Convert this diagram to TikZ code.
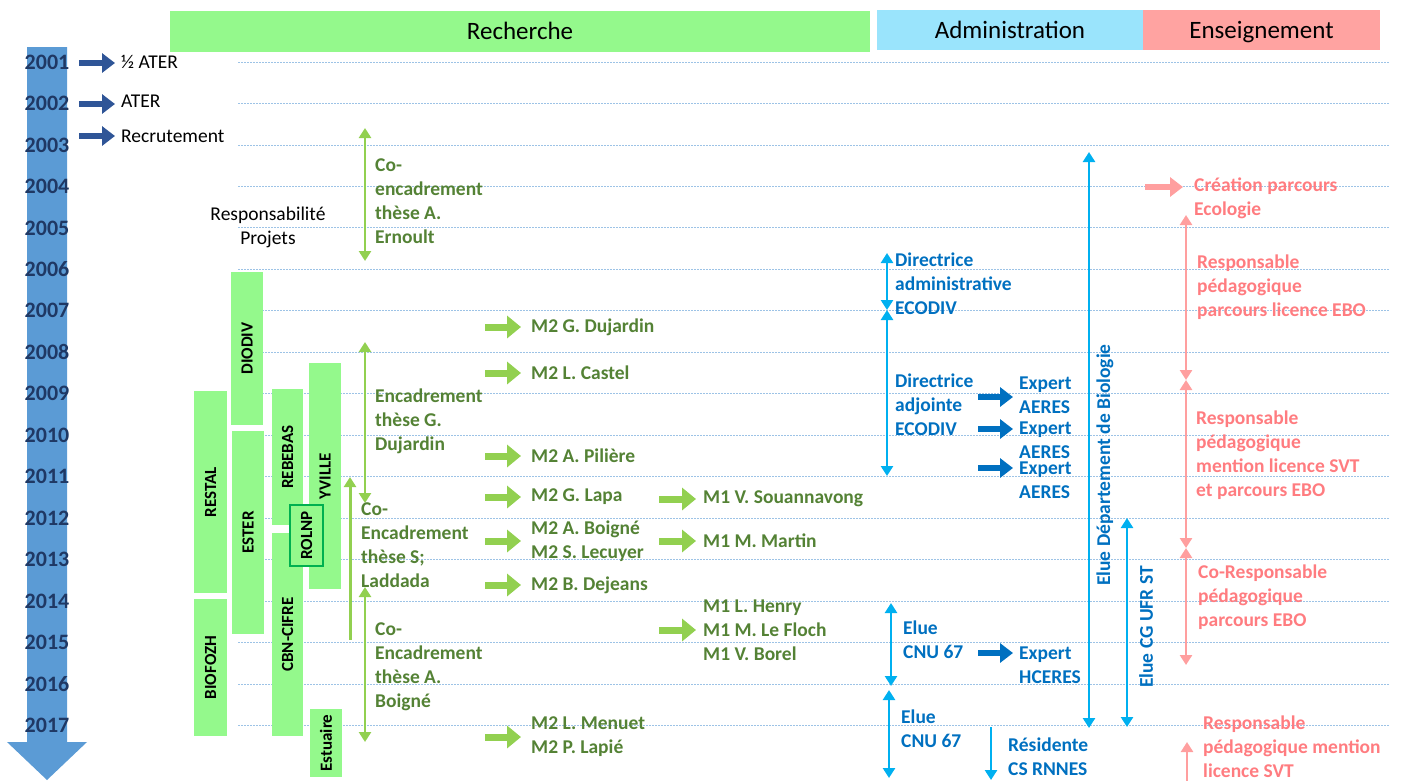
\documentclass[tikz,border=0pt]{standalone}
\usepackage{fontspec}
\setmainfont{Carlito}
\usetikzlibrary{arrows.meta}
\definecolor{timeblue}{HTML}{5B9BD5}
\definecolor{yearnavy}{HTML}{1F3864}
\definecolor{posteblue}{HTML}{2F5597}
\definecolor{rechgreen}{HTML}{94F98C}
\definecolor{admblue}{HTML}{9AE4FC}
\definecolor{enspink}{HTML}{FFA3A1}
\definecolor{arrgreen}{HTML}{92D050}
\definecolor{txtgreen}{HTML}{548235}
\definecolor{arrblue}{HTML}{00B0F0}
\definecolor{txtblue}{HTML}{0070C0}
\definecolor{arrpink}{HTML}{FF9F9F}
\definecolor{txtpink}{HTML}{FF7C80}
\definecolor{gridblue}{HTML}{9DC3E6}
\definecolor{boxedge}{HTML}{00B050}
\begin{document}
\begin{tikzpicture}[x=1pt, y=-1pt,
    header/.style={inner sep=0pt, text height=20pt, text depth=3pt, font=\fontsize{25}{30}\selectfont},
    yearlbl/.style={inner sep=0pt, font=\bfseries\fontsize{22}{24}\selectfont, text=yearnavy},
    plain/.style={inner sep=0pt, align=left, font=\fontsize{19.5}{24}\selectfont},
    lbl/.style={inner sep=0pt, align=left, anchor=west, font=\bfseries\fontsize{19.5}{24}\selectfont},
    gtxt/.style={lbl, text=txtgreen},
    btxt/.style={lbl, text=txtblue},
    ptxt/.style={lbl, text=txtpink},
    projet/.style={fill=rechgreen, inner sep=0pt, rotate=90, font=\bfseries\fontsize{17}{20}\selectfont},
    gridline/.style={gridblue, line width=0.8pt, dash pattern=on 1.5pt off 1.5pt},
    span/.style={line width=2.6pt, {Triangle[length=10pt,width=12pt]}-{Triangle[length=10pt,width=12pt]}},
    upspan/.style={line width=2.6pt, {Triangle[length=10pt,width=12pt]}-},
    fat/.style={line width=7pt, -{Triangle[length=14pt,width=22pt]}},
    fatthin/.style={line width=6pt, -{Triangle[length=13pt,width=19pt]}},
]
\useasboundingbox (0,0) rectangle (1402,780);

\foreach \i in {0,...,16}
    \draw[gridline] (238,{62+\i*41.47}) -- (1390,{62+\i*41.47});

\fill[timeblue] (27,47) -- (67,47) -- (67,742) -- (87,742) -- (47,780) -- (7,742) -- (27,742) -- cycle;
\foreach \yr [count=\i from 0] in {2001,...,2017}
    \node[yearlbl] (y\yr) at (47,{62+\i*41.47}) {\yr};

\node[header, fill=rechgreen, minimum width=700pt, minimum height=41pt] (rech) at (520,31) {Recherche};
\node[header, fill=admblue, minimum width=266pt, minimum height=40pt] (adm) at (1010,30) {Administration};
\node[header, fill=enspink, minimum width=237pt, minimum height=40pt] (ens) at (1261.5,30) {Enseignement};

\node[plain, anchor=west] (demi) at (121,62) {½ ATER};
\node[plain, anchor=west] (ater) at (121,101) {ATER};
\node[plain, anchor=west] (recru) at (121,136) {Recrutement};
\draw[fatthin, posteblue] ([xshift=-42pt,yshift=-1pt]demi.west) -- ([xshift=-6pt,yshift=-1pt]demi.west);
\draw[fatthin, posteblue] ([xshift=-42pt,yshift=-3pt]ater.west) -- ([xshift=-6pt,yshift=-3pt]ater.west);
\draw[fatthin, posteblue] ([xshift=-42pt]recru.west) -- ([xshift=-6pt]recru.west);
\node[plain, align=center] (resp) at (268,227) {Responsabilité\\Projets};

\node[projet, minimum width=202pt, minimum height=33pt] (restal) at (210.5,492) {RESTAL};
\node[projet, minimum width=137pt, minimum height=33pt] (biofozh) at (210.5,667.5) {BIOFOZH};
\node[projet, minimum width=153pt, minimum height=32pt] (diodiv) at (247,348.5) {DIODIV};
\node[projet, minimum width=203pt, minimum height=32pt] (ester) at (248,532.5) {ESTER};
\node[projet, minimum width=136pt, minimum height=31pt] (rebebas) at (287.5,457) {REBEBAS};
\node[projet, minimum width=203pt, minimum height=31pt] (cbn) at (287.5,634.5) {CBN-CIFRE};
\node[projet, minimum width=226pt, minimum height=32pt] (yville) at (325,476) {YVILLE};
\node[projet, minimum width=68pt, minimum height=32pt] (estuaire) at (326,743) {Estuaire};
\node[projet, draw=boxedge, line width=1.2pt, minimum width=61pt, minimum height=33pt] (rolnp) at (306.5,535.5) {ROLNP};

\draw[span, arrgreen] (365,128) -- (365,261);
\node[gtxt] (ernoult) at (375,201.5) {Co-\\encadrement\\thèse A.\\Ernoult};
\draw[span, arrgreen] (365,342) -- (365,503);
\node[gtxt] (dujardin) at (375,421) {Encadrement\\thèse G.\\Dujardin};
\draw[upspan, arrgreen, line width=3pt] (350,477) -- (350,640);
\node[gtxt] (laddada) at (361,545) {Co-\\Encadrement\\thèse S;\\Laddada};
\draw[span, arrgreen] (365,587) -- (365,742);
\node[gtxt] (boigne) at (375,667) {Co-\\Encadrement\\thèse A.\\Boigné};

\node[gtxt] (m2a) at (531,327) {M2 G. Dujardin};
\node[gtxt] (m2b) at (531,373) {M2 L. Castel};
\node[gtxt] (m2c) at (531,456) {M2 A. Pilière};
\node[gtxt] (m2d) at (531,497) {M2 G. Lapa};
\node[gtxt] (m2e) at (531,541) {M2 A. Boigné\\M2 S. Lecuyer};
\node[gtxt] (m2f) at (531,585) {M2 B. Dejeans};
\node[gtxt] (m2g) at (531,737) {M2 L. Menuet\\M2 P. Lapié};
\foreach \n in {m2a,m2b,m2c,m2d,m2e,m2f,m2g}
    \draw[fat, arrgreen] ([xshift=-46pt]\n.west) -- ([xshift=-10pt]\n.west);

\node[gtxt] (m1a) at (703,499) {M1 V. Souannavong};
\node[gtxt] (m1b) at (703,541) {M1 M. Martin};
\node[gtxt] (m1c) at (703,630) {M1 L. Henry\\M1 M. Le Floch\\M1 V. Borel};
\foreach \n in {m1a,m1b,m1c}
    \draw[fat, arrgreen] ([xshift=-44pt]\n.west) -- ([xshift=-7pt]\n.west);

\draw[span, arrblue] (887,253) -- (887,310);
\draw[span, arrblue] (887,310) -- (887,476);
\node[btxt] (dira) at (895,284) {Directrice\\administrative\\ECODIV};
\node[btxt] (diradj) at (895,405) {Directrice\\adjointe\\ECODIV};
\node[btxt] (expa) at (1019,395) {Expert\\AERES};
\node[btxt] (expb) at (1019,440.5) {Expert\\AERES};
\node[btxt] (expc) at (1019,480.5) {Expert\\AERES};
\draw[fatthin, txtblue] ([xshift=-41pt,yshift=-2pt]expa.west) -- ([xshift=-6pt,yshift=-2pt]expa.west);
\draw[fatthin, txtblue] ([xshift=-41pt,yshift=11.5pt]expb.west) -- ([xshift=-6pt,yshift=11.5pt]expb.west);
\draw[fatthin, txtblue] ([xshift=-41pt,yshift=12.5pt]expc.west) -- ([xshift=-6pt,yshift=12.5pt]expc.west);

\draw[span, arrblue] (891,603) -- (891,686);
\node[btxt] (cnua) at (903,640) {Elue\\CNU 67};
\node[btxt] (hceres) at (1019,665.5) {Expert\\HCERES};
\draw[fatthin, txtblue] ([xshift=-41pt,yshift=12.5pt]hceres.west) -- ([xshift=-6pt,yshift=12.5pt]hceres.west);
\draw[span, arrblue] (889,690) -- (889,778);
\node[btxt] (cnub) at (901,729) {Elue\\CNU 67};
\draw[arrblue, line width=2.6pt, -{Triangle[length=10pt,width=12pt]}] (991,727) -- (991,780);
\node[btxt] (rnnes) at (1008,757) {Résidente\\CS RNNES};

\draw[span, arrblue] (1089,152) -- (1089,728);
\node[btxt, anchor=center, rotate=90] (biol) at (1105,465) {Elue Département de Biologie};
\draw[span, arrblue] (1127,518) -- (1127,727);
\node[btxt, anchor=center, rotate=90] (ufr) at (1146,627) {Elue CG UFR ST};

\node[ptxt] (creat) at (1194,198.5) {Création parcours\\Ecologie};
\draw[fatthin, arrpink] ([xshift=-49pt,yshift=11.5pt]creat.west) -- ([xshift=-11pt,yshift=11.5pt]creat.west);
\draw[span, arrpink] (1186,215) -- (1186,380);
\node[ptxt] (ebo) at (1197,287) {Responsable\\pédagogique\\parcours licence EBO};
\draw[span, arrpink] (1186,380) -- (1186,548);
\node[ptxt] (svt) at (1196,455) {Responsable\\pédagogique\\mention licence SVT\\et parcours EBO};
\draw[span, arrpink] (1186,548) -- (1186,665);
\node[ptxt] (coresp) at (1198,597) {Co-Responsable\\pédagogique\\parcours EBO};
\draw[upspan, arrpink] (1187,742) -- (1187,782);
\node[ptxt] (svtb) at (1203,747) {Responsable\\pédagogique mention\\licence SVT};
\end{tikzpicture}
\end{document}
